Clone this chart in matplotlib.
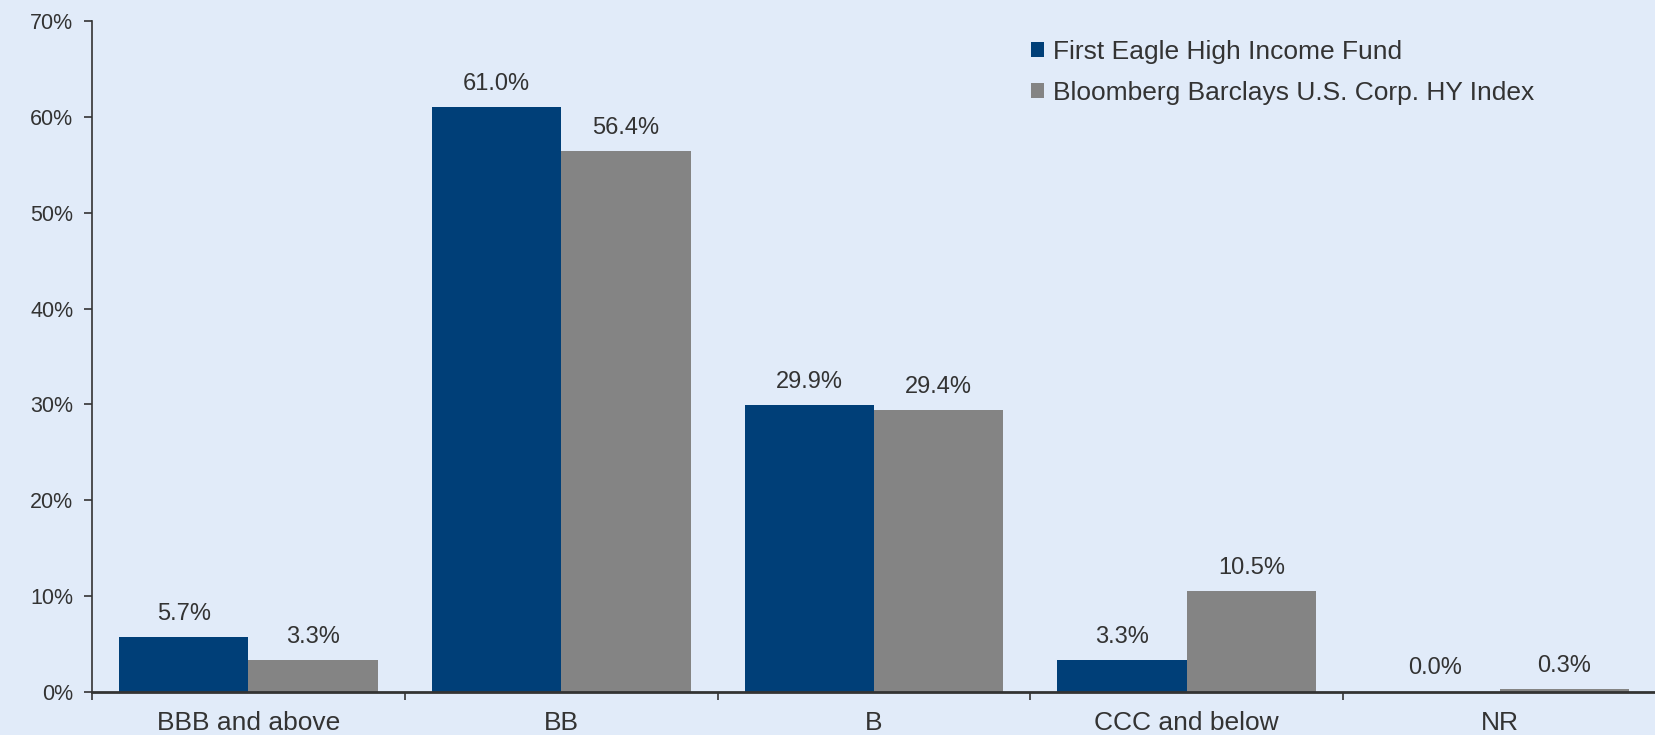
import matplotlib
matplotlib.use("Agg")
import matplotlib.pyplot as plt
import numpy as np
from matplotlib.ticker import FixedLocator, FuncFormatter

categories = ["BBB and above", "BB", "B", "CCC and below", "NR"]
fund = [5.7, 61.0, 29.9, 3.3, 0.0]
index = [3.3, 56.4, 29.4, 10.5, 0.3]
series_names = ["First Eagle High Income Fund", "Bloomberg Barclays U.S. Corp. HY Index"]
yticks = [0, 10, 20, 30, 40, 50, 60, 70]

plt.rcParams['font.family'] = ['Liberation Sans', 'DejaVu Sans']
bg = "#E1EBF9"
blue = "#003F78"
gray = "#848484"
txt = "#333333"

W, H = 1656, 735
fig = plt.figure(figsize=(W/100, H/100), dpi=100, facecolor=bg)
left_px = 92
bottom = 1 - 692 / H
top = 1 - 21 / H
group_w = 315
right_px = W
ax = fig.add_axes([left_px / W, bottom, (right_px - left_px) / W, top - bottom])
ax.set_facecolor(bg)

x = np.arange(len(categories))
bw = 0.414
b1 = ax.bar(x - bw/2, fund, bw, color=blue, label=series_names[0], zorder=2)
b2 = ax.bar(x + bw/2, index, bw, color=gray, label=series_names[1], zorder=2)

for rects, vals in ((b1, fund), (b2, index)):
    for r, v in zip(rects, vals):
        ax.annotate(f"{v:.1f}%", (r.get_x() + r.get_width()/2, r.get_height()),
                    xytext=(0, 9), textcoords="offset points", ha="center", va="bottom",
                    fontsize=17, color=txt)

xmax = -0.5 + (right_px - left_px) / group_w
ax.set_xlim(-0.5, xmax)
ax.set_ylim(0, 70)
ax.yaxis.set_major_locator(FixedLocator(yticks))
ax.yaxis.set_major_formatter(FuncFormatter(lambda v, p: f"{v:.0f}%"))
ax.set_xticks(x)
ax.set_xticklabels(categories)
ax.set_xticks(np.arange(-0.5, len(categories), 1), minor=True)
ax.tick_params(axis='x', which='major', length=0, pad=14, labelsize=19, labelcolor=txt)
ax.tick_params(axis='x', which='minor', length=5.5, width=1.2, color=txt, direction='out')
ax.tick_params(axis='y', length=5.5, width=1.2, color=txt, labelsize=15.5, labelcolor=txt, pad=8)

for s in ['top', 'right']:
    ax.spines[s].set_visible(False)
ax.spines['left'].set_color(txt)
ax.spines['bottom'].set_color(txt)
ax.spines['left'].set_linewidth(1.2)
ax.spines['bottom'].set_linewidth(2)

leg = ax.legend(loc='upper left', bbox_to_anchor=(1007 / W, 1 - 16 / H), bbox_transform=fig.transFigure,
                frameon=False, fontsize=19, handlelength=0.5, handleheight=0.5, handletextpad=0.35,
                labelspacing=0.65, labelcolor=txt)

fig.savefig("out.png", dpi=100, facecolor=bg)
